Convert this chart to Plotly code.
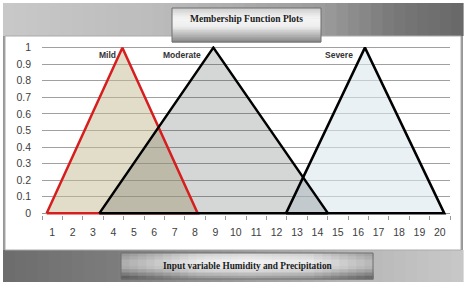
import plotly.graph_objects as go

# ---- data ----
categories = list(range(1, 21))
y_ticks = [0, 0.1, 0.2, 0.3, 0.4, 0.5, 0.6, 0.7, 0.8, 0.9, 1]
y_tick_labels = ["0", "0.1", "0.2", "0.3", "0.4", "0.5", "0.6", "0.7", "0.8", "0.9", "1"]
mild_x = [0.73, 4.44, 8.13]
moderate_x = [3.31, 8.90, 14.52]
severe_x = [12.46, 16.33, 20.22]
tri_y = [0, 1, 0]
series_names = ["Mild", "Moderate", "Severe"]

W, H = 469, 286
L, R, T, B = 42, 19, 46, 71
PW, PH = W - L - R, H - T - B


def fx(px):
    return (px - L) / PW


def fy(py):
    return (H - B - py) / PH


def lerp_color(stops, t):
    for i in range(len(stops) - 1):
        t0, c0 = stops[i]
        t1, c1 = stops[i + 1]
        if t <= t1 or i == len(stops) - 2:
            u = 0 if t1 == t0 else min(max((t - t0) / (t1 - t0), 0), 1)
            return tuple(c0[k] + (c1[k] - c0[k]) * u for k in range(3))
    return stops[-1][1]


def rgb(c):
    return "rgb(%d,%d,%d)" % tuple(int(round(v)) for v in c)


shapes = []


def rect(x0, y0, x1, y1, fill, line=None, lw=0):
    shapes.append(dict(type="rect", xref="paper", yref="paper", layer="below",
                       x0=fx(x0), x1=fx(x1), y0=fy(y1), y1=fy(y0),
                       fillcolor=fill,
                       line=dict(width=lw, color=line or "rgba(0,0,0,0)")))


def hgrad(x0, y0, x1, y1, stops, n=40):
    w = (x1 - x0) / n
    for i in range(n):
        t = (i + 0.5) / n
        rect(x0 + i * w, y0, x0 + (i + 1) * w + 0.6, y1, rgb(lerp_color(stops, t)))


def vgrad(x0, y0, x1, y1, stops, n=20):
    h = (y1 - y0) / n
    for i in range(n):
        t = (i + 0.5) / n
        rect(x0, y0 + i * h, x1, y0 + (i + 1) * h + 0.6, rgb(lerp_color(stops, t)))


def g(v):
    return (v, v, v)


# outer frame
rect(3, 3, 463, 282, "rgb(150,150,150)")
hgrad(3, 3, 463, 36, [(0, g(200)), (0.33, g(188)), (0.7, g(155)), (0.85, g(120)), (1, g(104))])
hgrad(3, 250, 463, 282, [(0, g(108)), (0.25, g(125)), (0.75, g(182)), (1, g(200))])
rect(5, 36, 461, 250, "white", "rgb(170,170,170)", 1)

# title button
vgrad(172, 8, 321, 42, [(0, g(205)), (0.3, g(245)), (0.55, g(238)), (1, g(135))])
rect(172, 8, 321, 42, "rgba(0,0,0,0)", "rgb(110,110,110)", 1)

# bottom button (2D-ish gradient)
nx, ny = 30, 8
bx0, by0, bx1, by1 = 121, 253, 373, 279
for i in range(nx):
    tx = (i + 0.5) / nx
    hv = lerp_color([(0, g(-70)), (0.3, g(-10)), (0.5, g(0)), (0.75, g(-10)), (1, g(-60))], tx)[0]
    for j in range(ny):
        ty = (j + 0.5) / ny
        vv = lerp_color([(0, g(215)), (0.35, g(245)), (0.6, g(235)), (1, g(150))], ty)[0]
        v = max(min(vv + hv, 255), 0)
        w = (bx1 - bx0) / nx
        h = (by1 - by0) / ny
        rect(bx0 + i * w, by0 + j * h, bx0 + (i + 1) * w + 0.6, by0 + (j + 1) * h + 0.6, rgb(g(v)))
rect(bx0, by0, bx1, by1, "rgba(0,0,0,0)", "rgb(110,110,110)", 1)

fig = go.Figure()

tri_sets = [severe_x, mild_x, moderate_x]
fills = ["rgba(219,232,238,0.6)", "rgba(196,187,147,0.5)", "rgba(47,48,52,0.2)"]
line_cols = ["black", "rgb(214,30,30)", "black"]
names = ["Severe", "Mild", "Moderate"]

for xs, fc, nm in zip(tri_sets, fills, names):
    fig.add_trace(go.Scatter(x=xs + [xs[0]], y=tri_y + [tri_y[0]], mode="lines",
                             fill="toself", fillcolor=fc, line=dict(width=0),
                             hoverinfo="skip", showlegend=False, name=nm))
for xs, lc, nm in zip(tri_sets, line_cols, names):
    fig.add_trace(go.Scatter(x=xs + [xs[0]], y=tri_y + [tri_y[0]], mode="lines",
                             line=dict(width=2.5, color=lc), showlegend=False, name=nm))

annotations = [
    dict(text="<b>Membership Function Plots</b>", xref="paper", yref="paper",
         x=fx(246.5), y=fy(19.5), showarrow=False,
         font=dict(family="Liberation Serif", size=9.5, color="#1a1a1a"), xanchor="center", yanchor="middle"),
    dict(text="<b>Input variable Humidity and Precipitation</b>", xref="paper", yref="paper",
         x=fx(247.5), y=fy(265.5), showarrow=False,
         font=dict(family="Liberation Serif", size=9.3, color="#1a1a1a"), xanchor="center", yanchor="middle"),
]

label_pos = {"Mild": 3.73, "Moderate": 7.36, "Severe": 15.06}
for nm in series_names:
    annotations.append(dict(text="<b>%s</b>" % nm, x=label_pos[nm], y=0.958, xref="x", yref="y",
                            showarrow=False, font=dict(family="Liberation Sans", size=8.5, color="#333333"),
                            xanchor="center", yanchor="middle"))

fig.update_layout(
    width=W, height=H,
    margin=dict(l=L, r=R, t=T, b=B, pad=0),
    paper_bgcolor="white",
    plot_bgcolor="rgb(232,239,243)",
    shapes=shapes,
    annotations=annotations,
    xaxis=dict(range=[0.5, 20.5], tickvals=categories, ticktext=[str(c) for c in categories],
               ticks="", showgrid=False, zeroline=False, showline=False,
               tickfont=dict(family="Liberation Sans", size=10.5, color="#404040"),
               ticklabelstandoff=9,
               minor=dict(tick0=0.5, dtick=1, ticks="outside", ticklen=4, tickcolor="#999999",
                          showgrid=False),
               fixedrange=True),
    yaxis=dict(range=[-0.01, 1.01], tickvals=y_ticks, ticktext=y_tick_labels,
               ticks="", showgrid=True, gridcolor="rgb(160,160,160)", gridwidth=1,
               zeroline=True, zerolinecolor="rgb(150,150,150)", zerolinewidth=1,
               showline=False, ticklabelstandoff=10,
               tickfont=dict(family="Liberation Sans", size=10.5, color="#404040"),
               fixedrange=True),
)

fig.write_html("out.html", config={"displayModeBar": False},
               post_script="document.body.style.margin='0';document.body.style.overflow='hidden';")
